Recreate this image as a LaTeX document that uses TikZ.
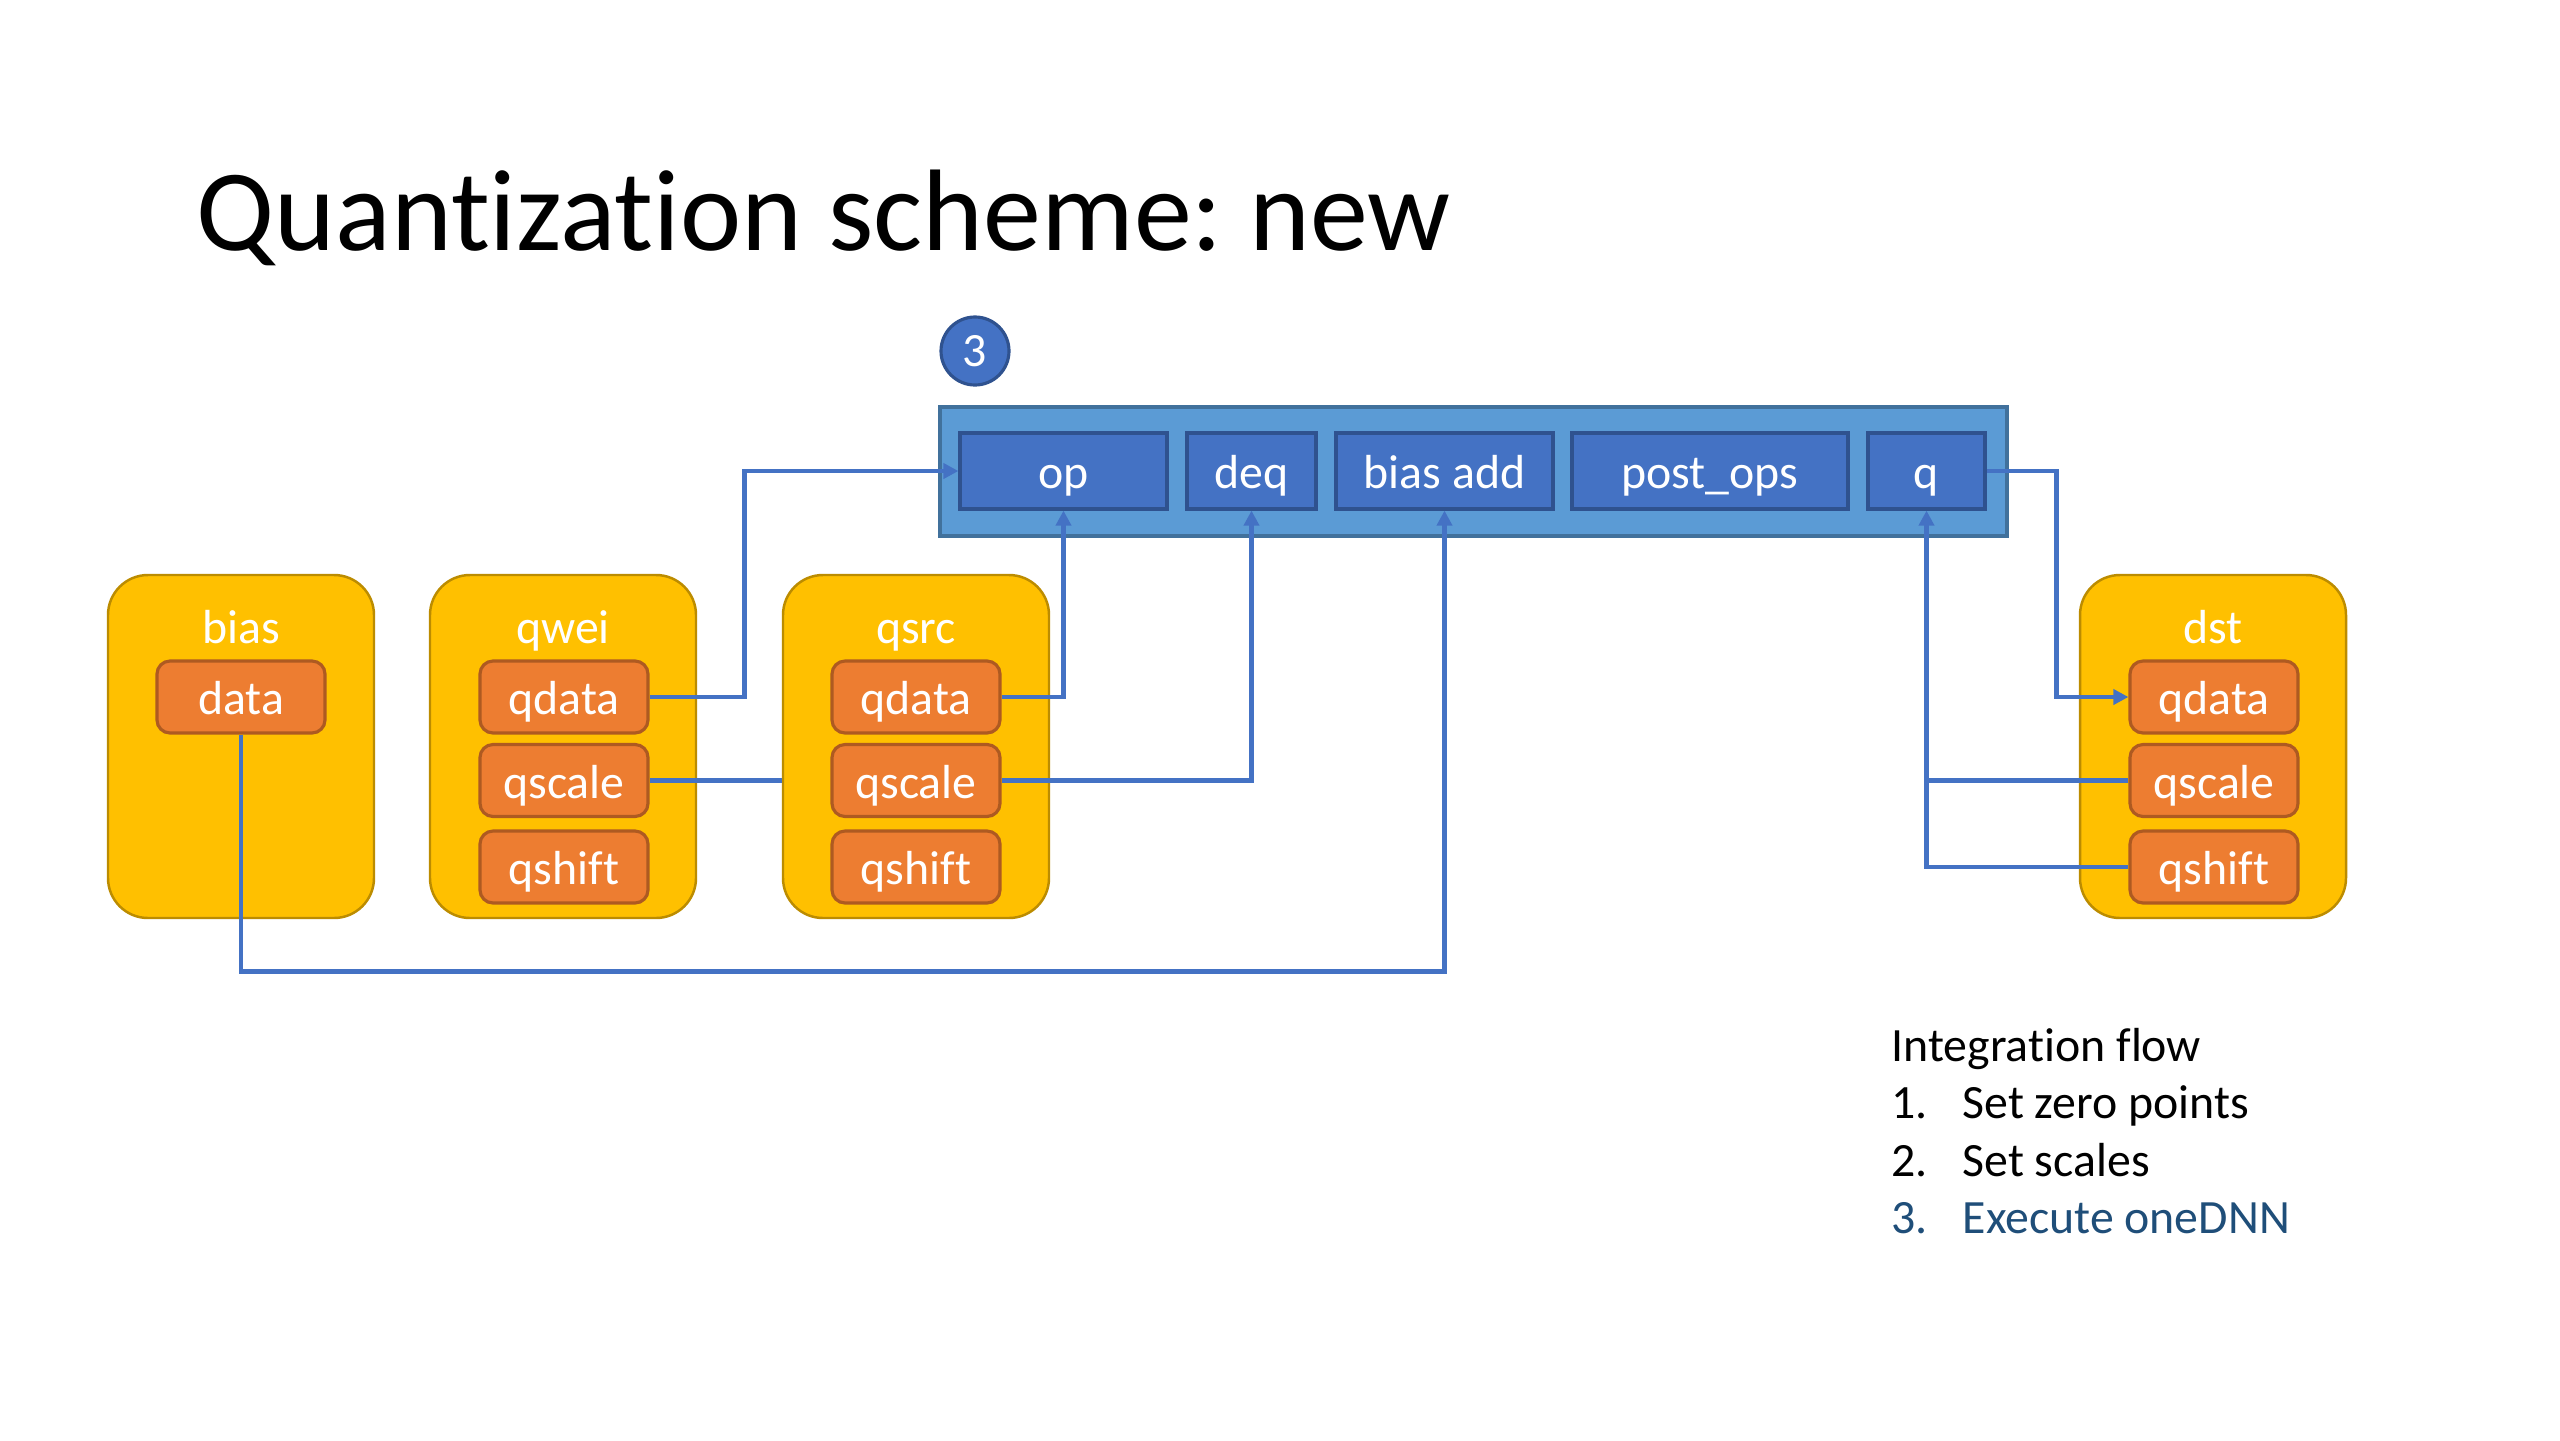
\documentclass[tikz,border=0pt]{standalone}
\usepackage{fontspec}
\setmainfont{Carlito}[Ligatures=NoCommon]
\usetikzlibrary{arrows.meta}
\frenchspacing

\definecolor{kernelblue}{HTML}{5B9BD5}
\definecolor{kernelline}{HTML}{41719C}
\definecolor{stageblue}{HTML}{4472C4}
\definecolor{stageline}{HTML}{2F528F}
\definecolor{groupyellow}{HTML}{FFC000}
\definecolor{groupline}{HTML}{BC8C00}
\definecolor{fieldorange}{HTML}{ED7D31}
\definecolor{fieldline}{HTML}{AE5A21}
\definecolor{linkblue}{HTML}{4472C4}
\definecolor{stepdark}{HTML}{1F4E79}

\begin{document}
\begin{tikzpicture}[
    % Box styles (kernel, stages, tensors and fields)
    boxfont/.style={font=\fontsize{13.6}{16}\selectfont, text height=10.2pt, text depth=0pt},
    kernel/.style={fill=kernelblue, draw=kernelline, line width=0.9pt, minimum width=10.67cm, minimum height=1.29cm, inner sep=0pt},
    stage/.style={fill=stageblue, draw=stageline, line width=0.9pt, text=white, boxfont, minimum height=0.76cm, inner sep=0pt},
    group/.style={fill=groupyellow, draw=groupline, line width=0.7pt, minimum width=2.66cm, minimum height=3.43cm, rounded corners=4mm, inner sep=0pt},
    grouplabel/.style={text=white, boxfont, inner sep=0pt},
    field/.style={fill=fieldorange, draw=fieldline, line width=0.9pt, text=white, boxfont, minimum width=1.68cm, minimum height=0.72cm, rounded corners=1.3mm, inner sep=0pt},
    badge/.style={circle, fill=stageblue, draw=stageline, line width=0.9pt, text=white, font=\fontsize{13.6}{16}\selectfont, minimum size=0.68cm, inner sep=0pt},
    flowtext/.style={anchor=base west, font=\fontsize{13.6}{16}\selectfont, inner sep=0pt},
    link/.style={draw=linkblue, line width=1.4pt},
    arrowlink/.style={link, -{Triangle[length=0.15cm, width=0.15cm]}}
]

\fill[white] (0,0) rectangle (25.6,-14.4);
\useasboundingbox (0,0) rectangle (25.6,-14.4);

% ---------------------------------------------------------
% 1. TITLE
% ---------------------------------------------------------
\node[anchor=base west, inner sep=0pt, font=\fontsize{33}{40}\selectfont] (title) at (1.96, -2.50) {Quantization scheme: new};

% ---------------------------------------------------------
% 2. KERNEL (oneDNN primitive)
% ---------------------------------------------------------
\node[badge] (badge) at (9.75, -3.51) {3};
\node[kernel] (kernel) at (14.735, -4.715) {};

\node[stage, minimum width=2.07cm] (op) at (10.635, -4.71) {op};
\node[stage, minimum width=1.29cm] (deq) at (12.515, -4.71) {deq};
\node[stage, minimum width=2.17cm] (biasadd) at (14.445, -4.71) {bias add};
\node[stage, minimum width=2.76cm] (postops) at (17.10, -4.71) {post\_ops};
\node[stage, minimum width=1.17cm] (q) at (19.265, -4.71) {q};

% ---------------------------------------------------------
% 3. TENSORS (Yellow groups)
% ---------------------------------------------------------
% bias
\node[group] (bias) at (2.41, -7.465) {};
\node[grouplabel] (bias-label) at ([yshift=-0.52cm]bias.north) {bias};
\node[field] (bias-data) at (2.41, -6.97) {data};

% qwei
\node[group] (qwei) at (5.63, -7.465) {};
\node[grouplabel] (qwei-label) at ([yshift=-0.52cm]qwei.north) {qwei};
\node[field] (qwei-qdata) at (5.64, -6.97) {qdata};
\node[field] (qwei-qscale) at (5.64, -7.805) {qscale};
\node[field] (qwei-qshift) at (5.64, -8.67) {qshift};

% qsrc
\node[group] (qsrc) at (9.16, -7.465) {};
\node[grouplabel] (qsrc-label) at ([yshift=-0.52cm]qsrc.north) {qsrc};
\node[field] (qsrc-qdata) at (9.16, -6.97) {qdata};
\node[field] (qsrc-qscale) at (9.16, -7.805) {qscale};
\node[field] (qsrc-qshift) at (9.16, -8.67) {qshift};

% dst
\node[group] (dst) at (22.13, -7.465) {};
\node[grouplabel] (dst-label) at ([yshift=-0.52cm]dst.north) {dst};
\node[field] (dst-qdata) at (22.14, -6.97) {qdata};
\node[field] (dst-qscale) at (22.14, -7.805) {qscale};
\node[field] (dst-qshift) at (22.14, -8.67) {qshift};

% ---------------------------------------------------------
% 4. CONNECTORS
% ---------------------------------------------------------
\draw[arrowlink] (qwei-qdata.east) -- ++(0.95,0) |- (op.west);
\draw[arrowlink] (qsrc-qdata.east) -| (op.south);
\draw[link] (qwei-qscale.east) -- (qwei-qscale.east -| qsrc.west);
\draw[arrowlink] (qsrc-qscale.east) -| (deq.south);
\draw[arrowlink] (bias-data.south) -- ++(0,-2.37) -| (biasadd.south);
\draw[arrowlink] (q.east) -- ++(0.70,0) |- (dst-qdata.west);
\draw[arrowlink] (dst-qscale.west) -| (q.south);
\draw[link] (dst-qshift.west) -| (dst-qscale.west -| q.south);

% ---------------------------------------------------------
% 5. INTEGRATION FLOW (list)
% ---------------------------------------------------------
\node[flowtext] (flow) at (18.91, -10.61) {Integration flow};
\foreach \n/\txt/\col [count=\i] in {1./Set zero points/black, 2./Set scales/black, 3./Execute oneDNN/stepdark} {
    \node[flowtext, text=\col] (flow-num-\i) at (18.91, -10.61-0.575*\i) {\n};
    \node[flowtext, text=\col] (flow-txt-\i) at (19.62, -10.61-0.575*\i) {\txt};
}

\end{tikzpicture}
\end{document}
